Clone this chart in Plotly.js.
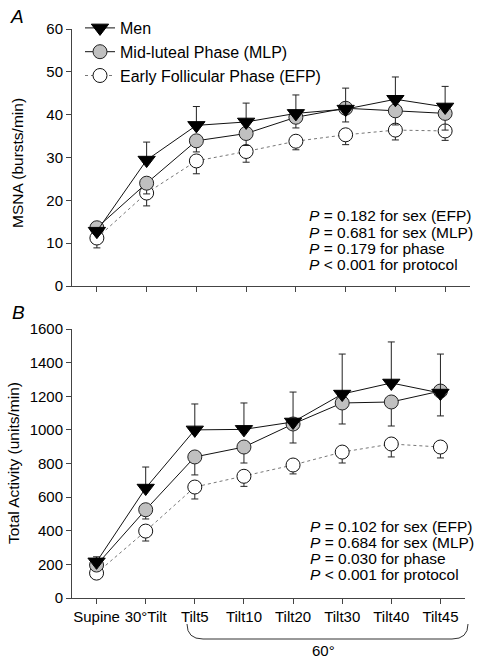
<!DOCTYPE html>
<html>
<head>
<meta charset="utf-8">
<script src="https://cdn.plot.ly/plotly-3.0.1.min.js"></script>
<style>html,body{margin:0;padding:0;background:#fff;}#chart{width:478px;height:662px;}</style>
</head>
<body>
<div id="chart"></div>
<script>
const categories = ["Supine", "30°Tilt", "Tilt5", "Tilt10", "Tilt20", "Tilt30", "Tilt40", "Tilt45"];
const seriesNames = ["Men", "Mid-luteal Phase (MLP)", "Early Follicular Phase (EFP)"];
const yTitles = ["MSNA (bursts/min)", "Total Activity (units/min)"];

// Panel A: MSNA (bursts/min)
const msnaMen = [12.8, 29.4, 37.5, 38.3, 40.3, 41.3, 43.6, 41.8];
const msnaMenErrUp = [0, 4.2, 4.4, 4.4, 4.3, 4.9, 5.2, 4.8];
const msnaMLP = [13.6, 24.0, 33.9, 35.6, 39.4, 41.5, 40.9, 40.3];
const msnaMLPErrDown = [1.5, 2.5, 2.6, 2.8, 2.5, 3.2, 3.3, 3.9];
const msnaEFP = [11.2, 21.7, 29.2, 31.4, 33.8, 35.3, 36.4, 36.2];
const msnaEFPErrDown = [2.3, 3.0, 3.0, 2.5, 2.0, 2.3, 2.3, 2.2];

// Panel B: Total Activity (units/min)
const taMen = [215, 654, 1000, 1003, 1047, 1213, 1279, 1219];
const taMenErrUp = [30, 125, 154, 157, 178, 238, 244, 232];
const taMLP = [196, 525, 839, 898, 1035, 1160, 1166, 1231];
const taMLPErrDown = [20, 55, 107, 95, 113, 125, 143, 148];
const taEFP = [148, 398, 660, 724, 791, 868, 916, 898];
const taEFPErrDown = [15, 59, 71, 60, 53, 65, 77, 65];

const pTextA = ["<i>P</i> = 0.182 for sex (EFP)", "<i>P</i> = 0.681 for sex (MLP)", "<i>P</i> = 0.179 for phase", "<i>P</i> < 0.001 for protocol"];
const pTextB = ["<i>P</i> = 0.102 for sex (EFP)", "<i>P</i> = 0.684 for sex (MLP)", "<i>P</i> = 0.030 for phase", "<i>P</i> < 0.001 for protocol"];

const FONT = "Liberation Sans, Arial, sans-serif";
const W = 478, H = 662, ML = 72, MR = 8, MT = 29, MB = 64;
const PW = W - ML - MR, PH = H - MT - MB;
const px = x => (x - ML) / PW;
const py = y => (H - MB - y) / PH;

function err(arr, up) {
  const zeros = arr.map(() => 0);
  return {type: 'data', symmetric: false, array: up ? arr : zeros, arrayminus: up ? zeros : arr,
          color: '#222', thickness: 1, width: 3.5, visible: true};
}

function mk(xa, ya, y, e, up, kind, showlegend) {
  const base = {x: categories, y: y, xaxis: xa, yaxis: ya, mode: 'lines+markers', showlegend: showlegend,
    error_y: err(e, up), cliponaxis: false};
  if (kind === 0) {
    return Object.assign(base, {name: seriesNames[0], line: {color: '#111', width: 1},
      marker: {symbol: 'triangle-down', size: 15, color: '#000', line: {color: '#000', width: 1}}});
  } else if (kind === 1) {
    return Object.assign(base, {name: seriesNames[1], line: {color: '#111', width: 1},
      marker: {symbol: 'circle', size: 14, color: '#c0c0c0', line: {color: '#222', width: 1}}});
  }
  return Object.assign(base, {name: seriesNames[2], line: {color: '#777', width: 1, dash: 'dot'},
    marker: {symbol: 'circle', size: 14, color: '#fff', line: {color: '#111', width: 1}}});
}

const traces = [
  mk('x', 'y', msnaEFP, msnaEFPErrDown, false, 2, true),
  mk('x', 'y', msnaMLP, msnaMLPErrDown, false, 1, true),
  mk('x', 'y', msnaMen, msnaMenErrUp, true, 0, true),
  mk('x2', 'y2', taEFP, taEFPErrDown, false, 2, false),
  mk('x2', 'y2', taMLP, taMLPErrDown, false, 1, false),
  mk('x2', 'y2', taMen, taMenErrUp, true, 0, false)
];

const axisCommon = {showline: true, linecolor: '#444', linewidth: 1, ticks: 'outside', ticklen: 5,
  tickcolor: '#444', tickwidth: 1, showgrid: false, zeroline: false,
  tickfont: {family: FONT, size: 15, color: '#000'}};

const annotations = [];
const linesA = [216, 232, 248, 264];
const linesB = [526, 542, 558, 574];
pTextA.forEach((t, i) => annotations.push({xref: 'paper', yref: 'paper', x: px(307), y: py(linesA[i]),
  xanchor: 'left', yanchor: 'middle', text: t, showarrow: false, font: {family: FONT, size: 15.5, color: '#000'}}));
pTextB.forEach((t, i) => annotations.push({xref: 'paper', yref: 'paper', x: px(308), y: py(linesB[i]),
  xanchor: 'left', yanchor: 'middle', text: t, showarrow: false, font: {family: FONT, size: 15.5, color: '#000'}}));
annotations.push({xref: 'paper', yref: 'paper', x: px(17), y: py(16), text: '<i>A</i>', showarrow: false,
  xanchor: 'center', yanchor: 'middle', font: {family: FONT, size: 19, color: '#000'}});
annotations.push({xref: 'paper', yref: 'paper', x: px(18), y: py(312), text: '<i>B</i>', showarrow: false,
  xanchor: 'center', yanchor: 'middle', font: {family: FONT, size: 19, color: '#000'}});
annotations.push({xref: 'paper', yref: 'paper', x: px(323), y: py(650), text: '60°', showarrow: false,
  xanchor: 'center', yanchor: 'middle', font: {family: FONT, size: 15, color: '#000'}});
// axis titles
annotations.push({xref: 'paper', yref: 'paper', x: px(18), y: py(163), text: yTitles[0], textangle: -90,
  showarrow: false, xanchor: 'center', yanchor: 'middle', font: {family: FONT, size: 15.5, color: '#000'}});
annotations.push({xref: 'paper', yref: 'paper', x: px(13), y: py(463), text: yTitles[1], textangle: -90,
  showarrow: false, xanchor: 'center', yanchor: 'middle', font: {family: FONT, size: 15.5, color: '#000'}});

// brace under Tilt5..Tilt45
const bx0 = px(187), bx1 = px(203), bx2 = px(452), bx3 = px(468);
const by0 = py(624), by1 = py(639);
const bracePath = `M ${bx0} ${by0} Q ${bx0} ${by1} ${bx1} ${by1} L ${bx2} ${by1} Q ${bx3} ${by1} ${bx3} ${by0}`;

const layout = {
  width: W, height: H,
  margin: {l: ML, r: MR, t: MT, b: MB, pad: 0},
  paper_bgcolor: '#fff', plot_bgcolor: 'rgba(0,0,0,0)',
  font: {family: FONT, size: 15, color: '#000'},
  showlegend: true,
  legend: {x: px(80), y: py(11), xanchor: 'left', yanchor: 'top', traceorder: 'reversed',
    bgcolor: 'rgba(0,0,0,0)', font: {family: FONT, size: 16, color: '#000'}, itemwidth: 30, tracegroupgap: 0},
  xaxis: Object.assign({}, axisCommon, {domain: [0, 1], anchor: 'y', type: 'category',
    categoryarray: categories, range: [-0.5, 7.5], showticklabels: false}),
  yaxis: Object.assign({}, axisCommon, {domain: [py(286), 1], anchor: 'x', range: [0, 60], dtick: 10}),
  xaxis2: Object.assign({}, axisCommon, {domain: [0, px(465)], anchor: 'y2', type: 'category',
    categoryarray: categories, range: [-0.5, 7.5]}),
  yaxis2: Object.assign({}, axisCommon, {domain: [0, py(329)], anchor: 'x2', range: [0, 1600], dtick: 200}),
  annotations: annotations,
  shapes: [{type: 'path', xref: 'paper', yref: 'paper', path: bracePath, line: {color: '#333', width: 1}}]
};

Plotly.newPlot('chart', traces, layout, {displayModeBar: false, staticPlot: true});
</script>
</body>
</html>
